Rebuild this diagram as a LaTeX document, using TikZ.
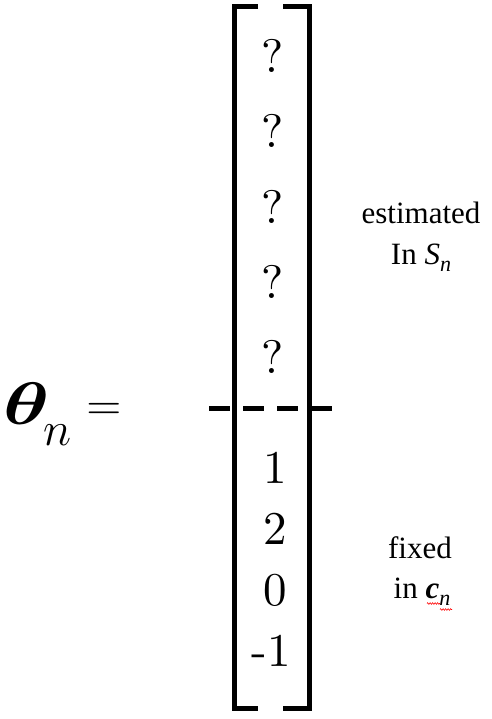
\RequirePackage{fix-cm}
\documentclass[tikz,border=0pt]{standalone}
\usepackage{amsmath,bm,graphicx}
\usepackage{fontspec}
\newfontfamily\tnr{Liberation Serif}
\newfontfamily\lmten{lmroman10-regular}[Extension=.otf]
\usetikzlibrary{decorations.pathmorphing}
\tikzset{
  x=1pt,y=-1pt,
  entry/.style={inner sep=0pt,anchor=base,font=\lmten\fontsize{47}{47}\selectfont},
  lbl/.style={inner sep=0pt,anchor=base,font=\tnr\fontsize{31}{31}\selectfont},
  brk/.style={line width=5pt,line join=miter,line cap=butt},
  wavy/.style={red,line width=0.6pt,decorate,decoration={zigzag,segment length=2.5pt,amplitude=0.8pt}}
}
\begin{document}
\begin{tikzpicture}
\useasboundingbox (0,0) rectangle (491,719);
% left-hand side
\node[inner sep=0pt,anchor=base west] (theta) at (3,424)
  {{\fontsize{60}{60}\selectfont\scalebox{1.3}[1]{$\boldsymbol{\theta}$}}\kern-6.5pt\raisebox{-21pt}{\fontsize{48}{48}\selectfont$n$}};
\node[inner sep=0pt,anchor=base,font=\fontsize{48}{48}\selectfont] (eq) at (104,420.5) {$=$};
% brackets
\draw[brk] (258,6.5) -- (234,6.5) -- (234,708.5) -- (258,708.5);
\draw[brk] (283,6.5) -- (309,6.5) -- (309,708.5) -- (283,708.5);
% separator
\coordinate (sepL) at (209,408);
\coordinate (sepR) at (333,408);
\draw[line width=5pt,dash pattern=on 21pt off 13pt] (sepL) -- (sepR);
% entries
\node[entry] (q1) at (273,73) {?};
\node[entry] (q2) at (273,148) {?};
\node[entry] (q3) at (273,223) {?};
\node[entry] (q4) at (273,298) {?};
\node[entry] (q5) at (273,373) {?};
\node[entry] (v1) at (275,483) {1};
\node[entry] (v2) at (275,544) {2};
\node[entry] (v3) at (275,605) {0};
\node[entry] (v4) at (271,666) {-1};
% labels
\node[lbl] (est1) at (421,223) {estimated};
\node[lbl] (est2) at (421,264) {In \textit{S}\raisebox{-0.24em}{\fontsize{22}{22}\selectfont\textit{n}}};
\node[lbl] (fix1) at (420,558) {fixed};
\node[lbl] (fix2) at (422,598) {in \textbf{\textit{c}}\raisebox{-0.25em}{\fontsize{22}{22}\selectfont\textit{n}}};
% spell-check underline
\coordinate (w1a) at (427,603.5);
\coordinate (w1b) at (440,603.5);
\coordinate (w2a) at (440,609.5);
\coordinate (w2b) at (452,609.5);
\draw[wavy] (w1a) -- (w1b);
\draw[wavy] (w2a) -- (w2b);
\end{tikzpicture}
\end{document}
